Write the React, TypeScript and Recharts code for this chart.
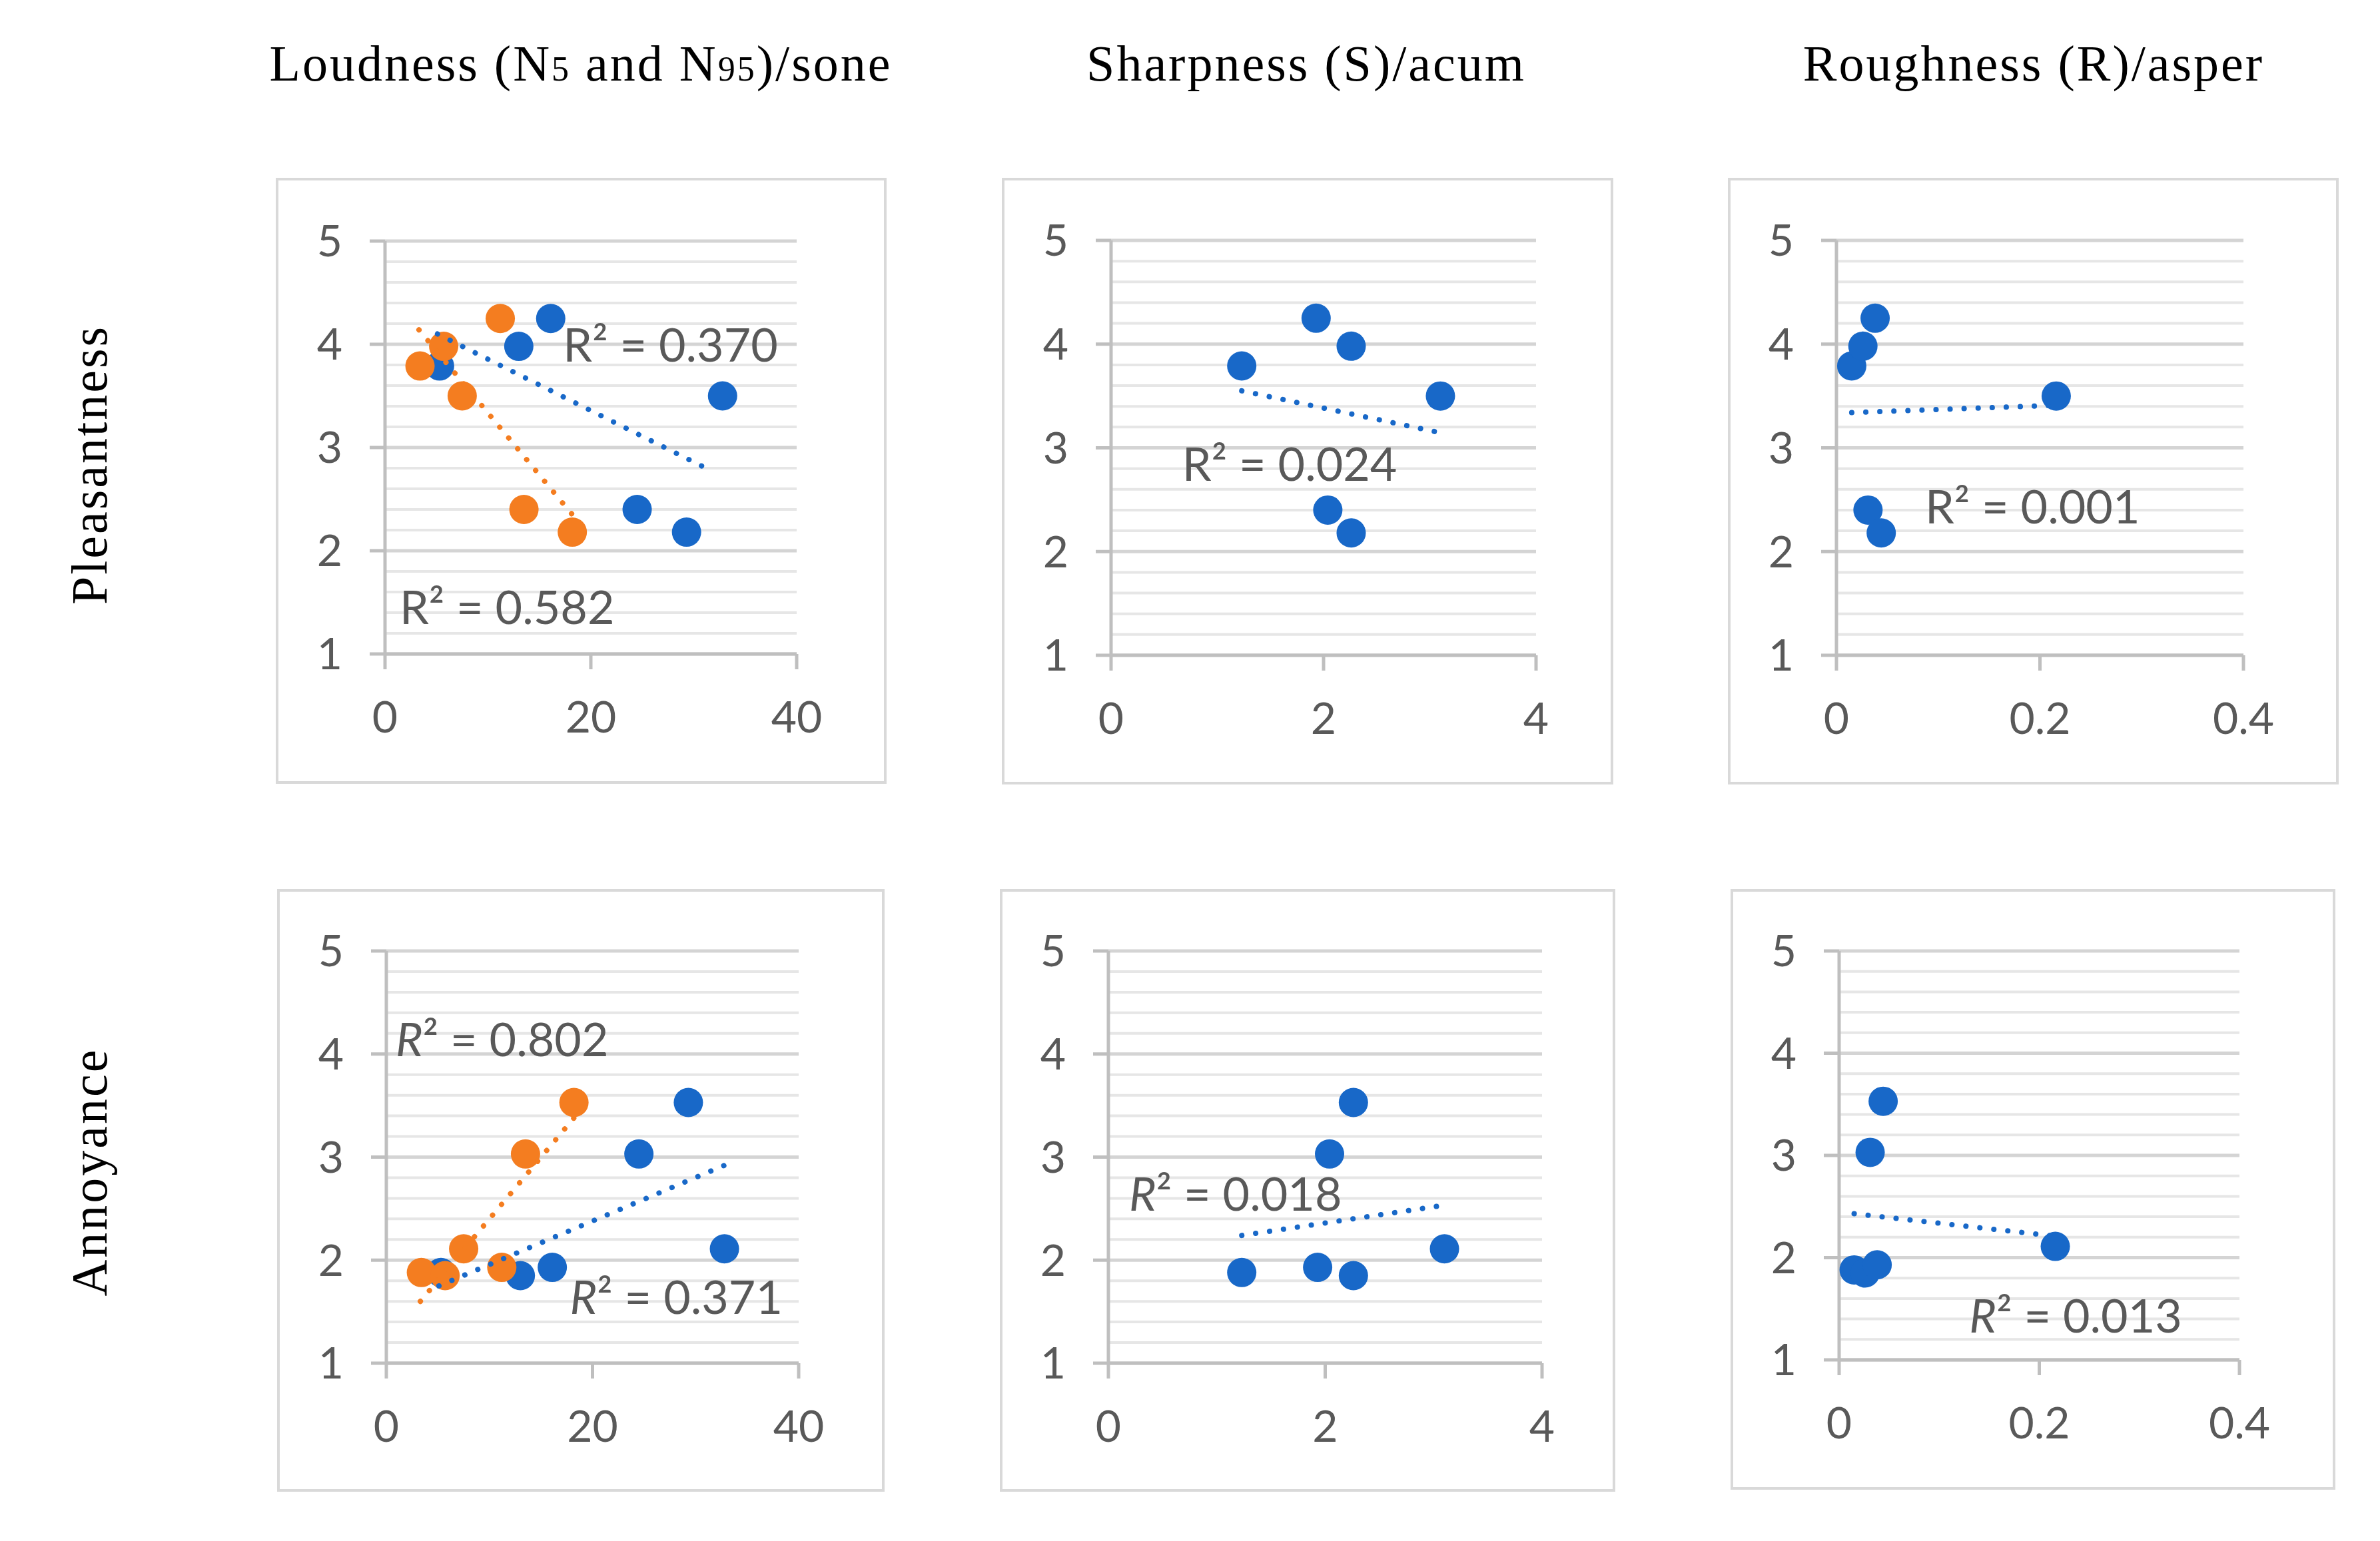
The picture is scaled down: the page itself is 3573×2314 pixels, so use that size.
import React from 'react';
import {
  CartesianGrid,
  ReferenceDot,
  Scatter,
  ScatterChart,
  XAxis,
  YAxis,
} from 'recharts';

// six sounds, same order in every panel
const pleasantness = [3.79, 3.98, 4.25, 3.5, 2.4, 2.18];
const annoyance = [1.88, 1.85, 1.93, 2.11, 3.03, 3.53];
const loudnessN5 = [5.3, 13.0, 16.1, 32.8, 24.5, 29.3];
const loudnessN95 = [3.4, 5.7, 11.2, 7.5, 13.5, 18.2];
const sharpness = [1.23, 2.26, 1.93, 3.1, 2.04, 2.26];
const roughness = [0.015, 0.026, 0.038, 0.216, 0.031, 0.044];

const yTicks = [1, 2, 3, 4, 5];
const yMinorTicks = [
  1.2, 1.4, 1.6, 1.8, 2.2, 2.4, 2.6, 2.8, 3.2, 3.4, 3.6, 3.8, 4.2, 4.4, 4.6, 4.8,
];
const loudTicks = [0, 20, 40];
const sharpTicks = [0, 2, 4];
const roughTicks = [0, 0.2, 0.4];

// trendline ends: [x, y]
const trendPleasN5 = [[5.1, 4.1], [31.8, 2.77]];
const trendPleasN95 = [[3.3, 4.14], [18.2, 2.35]];
const trendPleasS = [[1.23, 3.55], [3.08, 3.15]];
const trendPleasR = [[0.015, 3.34], [0.216, 3.41]];
const trendAnnN5 = [[5.1, 1.75], [32.8, 2.92]];
const trendAnnN95 = [[3.3, 1.6], [18.2, 3.38]];
const trendAnnS = [[1.23, 2.24], [3.08, 2.53]];
const trendAnnR = [[0.015, 2.43], [0.216, 2.21]];

const BLUE = '#1868C8';
const ORANGE = '#F47D20';
const GREY_TXT = '#595959';
const SANS = 'Lato, "Open Sans", sans-serif';
const SERIF = '"Liberation Serif", "Times New Roman", serif';

const toPoints = (xs: number[], ys: number[]) =>
  xs.map((x, i) => ({ x, y: ys[i] }));
const trendPoints = (t: number[][]) => t.map(([x, y]) => ({ x, y }));

const panels = [
  {
    box: { l: 414, t: 267, w: 917, h: 910 },
    plot: { left: 160, top: 91, right: 131, bottom: 191 },
    xTicks: loudTicks,
    series: [
      { xs: loudnessN5, ys: pleasantness, color: BLUE },
      { xs: loudnessN95, ys: pleasantness, color: ORANGE },
    ],
    trends: [
      { pts: trendPleasN5, color: BLUE },
      { pts: trendPleasN95, color: ORANGE },
    ],
    labels: [
      { x: 17.3, y: 3.83, text: '0.370', italic: false },
      { x: 1.42, y: 1.29, text: '0.582', italic: false },
    ],
  },
  {
    box: { l: 1504, t: 267, w: 918, h: 911 },
    plot: { left: 160, top: 90, right: 112, bottom: 190 },
    xTicks: sharpTicks,
    series: [{ xs: sharpness, ys: pleasantness, color: BLUE }],
    trends: [{ pts: trendPleasS, color: BLUE }],
    labels: [{ x: 0.67, y: 2.68, text: '0.024', italic: false }],
  },
  {
    box: { l: 2594, t: 267, w: 917, h: 911 },
    plot: { left: 159, top: 90, right: 139, bottom: 190 },
    xTicks: roughTicks,
    series: [{ xs: roughness, ys: pleasantness, color: BLUE }],
    trends: [{ pts: trendPleasR, color: BLUE }],
    labels: [{ x: 0.087, y: 2.27, text: '0.001', italic: false }],
  },
  {
    box: { l: 416, t: 1335, w: 912, h: 905 },
    plot: { left: 160, top: 89, right: 125, bottom: 189 },
    xTicks: loudTicks,
    series: [
      { xs: loudnessN5, ys: annoyance, color: BLUE },
      { xs: loudnessN95, ys: annoyance, color: ORANGE },
    ],
    trends: [
      { pts: trendAnnN5, color: BLUE },
      { pts: trendAnnN95, color: ORANGE },
    ],
    labels: [
      { x: 0.9, y: 3.98, text: '0.802', italic: true },
      { x: 17.8, y: 1.48, text: '0.371', italic: true },
    ],
  },
  {
    box: { l: 1501, t: 1335, w: 924, h: 905 },
    plot: { left: 159, top: 89, right: 106, bottom: 189 },
    xTicks: sharpTicks,
    series: [{ xs: sharpness, ys: annoyance, color: BLUE }],
    trends: [{ pts: trendAnnS, color: BLUE }],
    labels: [{ x: 0.19, y: 2.48, text: '0.018', italic: true }],
  },
  {
    box: { l: 2598, t: 1335, w: 908, h: 902 },
    plot: { left: 159, top: 89, right: 140, bottom: 191 },
    xTicks: roughTicks,
    series: [{ xs: roughness, ys: annoyance, color: BLUE }],
    trends: [{ pts: trendAnnR, color: BLUE }],
    labels: [{ x: 0.13, y: 1.27, text: '0.013', italic: true }],
  },
];

const axisStroke = { stroke: '#bfbfbf', strokeWidth: 5 };
const tickStyle = { fill: GREY_TXT, fontSize: 66, fontFamily: SANS };

function Panel({ cfg }: any) {
  const { box, plot } = cfg;
  const Y_W = 100;
  const X_H = 100;
  return (
    <div
      style={{
        position: 'absolute',
        left: box.l,
        top: box.t,
        width: box.w,
        height: box.h,
        border: '4px solid #d9d9d9',
        boxSizing: 'border-box',
        background: '#fff',
      }}
    >
      <ScatterChart
        width={box.w - 8}
        height={box.h - 8}
        margin={{
          top: plot.top,
          right: plot.right,
          bottom: plot.bottom - X_H,
          left: plot.left - Y_W,
        }}
      >
        {/* minor gridlines every 0.2 */}
        <CartesianGrid
          vertical={false}
          horizontalValues={yMinorTicks}
          stroke='#e6e6e6'
          strokeWidth={4}
        />
        <CartesianGrid vertical={false} stroke='#d4d4d4' strokeWidth={5} />
        <XAxis
          type='number'
          dataKey='x'
          domain={[cfg.xTicks[0], cfg.xTicks[cfg.xTicks.length - 1]]}
          ticks={cfg.xTicks}
          height={X_H}
          tickSize={23}
          tickMargin={48}
          axisLine={axisStroke}
          tickLine={axisStroke}
          tick={tickStyle}
          interval={0}
        />
        <YAxis
          type='number'
          dataKey='y'
          domain={[1, 5]}
          ticks={yTicks}
          width={Y_W}
          tickSize={23}
          tickMargin={41}
          axisLine={axisStroke}
          tickLine={axisStroke}
          tick={tickStyle}
          interval={0}
        />
        {cfg.series.map((s: any, i: number) => (
          <Scatter
            key={'s' + i}
            data={toPoints(s.xs, s.ys)}
            isAnimationActive={false}
            shape={(p: any) => (
              <circle cx={p.cx} cy={p.cy} r={22} fill={s.color} />
            )}
          />
        ))}
        {cfg.trends.map((t: any, i: number) => (
          <Scatter
            key={'t' + i}
            data={trendPoints(t.pts)}
            isAnimationActive={false}
            line={{
              stroke: t.color,
              strokeWidth: 8,
              strokeDasharray: '0.1 21',
              strokeLinecap: 'round',
            }}
            shape={() => <g />}
          />
        ))}
        {cfg.labels.map((lb: any, i: number) => (
          <ReferenceDot
            key={'l' + i}
            x={lb.x}
            y={lb.y}
            r={0}
            shape={(p: any) => (
              <text
                x={p.cx}
                y={p.cy}
                fill={GREY_TXT}
                fontSize={70}
                fontFamily={SANS}
              >
                <tspan fontStyle={lb.italic ? 'italic' : 'normal'}>R</tspan>
                <tspan>{'\u00b2 = ' + lb.text}</tspan>
              </text>
            )}
          />
        ))}
      </ScatterChart>
    </div>
  );
}

export default function App() {
  const sub = { fontSize: 52 };
  return (
    <div
      style={{
        position: 'absolute',
        left: 0,
        top: 0,
        width: 3573,
        height: 2314,
        background: '#fff',
      }}
    >
      <svg
        width={3573}
        height={2314}
        style={{ position: 'absolute', left: 0, top: 0 }}
      >
        <g fontFamily={SERIF} fontSize={76} fill='#000' letterSpacing={3}>
          <text x={872} y={121} textAnchor='middle'>
            Loudness (N<tspan {...sub}>5</tspan> and N
            <tspan {...sub}>95</tspan>)/sone
          </text>
          <text x={1961} y={121} textAnchor='middle'>
            Sharpness (S)/acum
          </text>
          <text x={3053} y={121} textAnchor='middle'>
            Roughness (R)/asper
          </text>
          <text transform='translate(160,698) rotate(-90)' textAnchor='middle'>
            Pleasantness
          </text>
          <text transform='translate(160,1760) rotate(-90)' textAnchor='middle'>
            Annoyance
          </text>
        </g>
      </svg>
      {panels.map((cfg, i) => (
        <Panel key={i} cfg={cfg} />
      ))}
    </div>
  );
}
